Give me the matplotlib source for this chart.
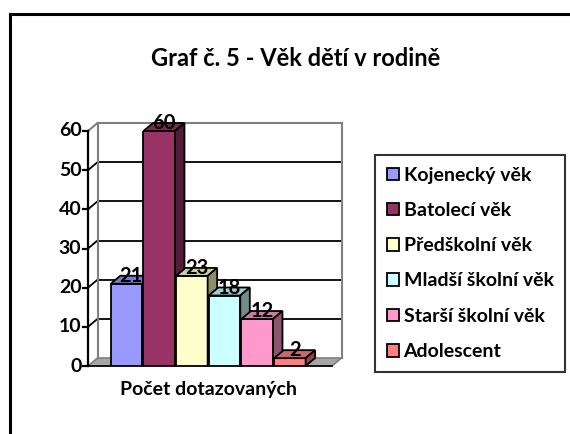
import numpy as np
import matplotlib
matplotlib.use("Agg")
import matplotlib.pyplot as plt
from matplotlib.patches import Polygon
from matplotlib.lines import Line2D
from matplotlib.colors import to_rgb

# --------------------------------
# Datos
# --------------------------------
kategorie = ["Kojenecký věk", "Batolecí věk", "Předškolní věk",
             "Mladší školní věk", "Starší školní věk", "Adolescent"]
hodnoty = [21, 60, 23, 18, 12, 2]
barvy = ["#9999FF", "#993366", "#FFFFCC", "#CCFFFF", "#FF99CC", "#FF8080"]
yticks = [0, 10, 20, 30, 40, 50, 60]
titulek = "Graf č. 5 - Věk dětí v rodině"
popis_x = "Počet dotazovaných"

plt.rcParams['font.family'] = ['Lato', 'DejaVu Sans']
plt.rcParams['font.weight'] = 'bold'

W, H = 570, 434
fig = plt.figure(figsize=(W / 100, H / 100), dpi=100)
fig.patch.set_facecolor("white")

# osa = predni rovina grafu (v pixelech: x 88..332, y 366..131)
ax = fig.add_axes([88 / W, (H - 366) / H, (332 - 88) / W, 235 / H])
xmax = 7.47
ax.set_xlim(0, xmax)
ax.set_ylim(0, 60)
ax.axis("off")

# hloubka 3D efektu v datovych jednotkach
px_x = (332 - 88) / xmax
px_y = 235 / 60
dx = 9.5 / px_x
dy = 8.0 / px_y

seda = "#808080"

# --------------------------------
# Zadni stena, podlaha, mrizka
# --------------------------------
floor = Polygon([(0, 0), (xmax, 0), (xmax + dx, dy), (dx, dy)], closed=True,
                facecolor="#a6a6a6", edgecolor=seda, lw=1.2, clip_on=False, zorder=1)
ax.add_patch(floor)
ax.plot([0, xmax], [0, 0], color="black", lw=1.2, clip_on=False, zorder=1.5)

for v in yticks[1:-1]:
    ax.plot([dx, xmax + dx], [v + dy, v + dy], color="black", lw=1.3, clip_on=False, zorder=1)
    ax.plot([0, dx], [v, v + dy], color="black", lw=1.3, clip_on=False, zorder=1)
ax.plot([0, dx], [60, 60 + dy], color=seda, lw=1.5, clip_on=False, zorder=1)
ax.plot([dx, xmax + dx], [60 + dy, 60 + dy], color=seda, lw=1.5, clip_on=False, zorder=1)
ax.plot([dx, dx], [dy, 60 + dy], color=seda, lw=1.5, clip_on=False, zorder=1)
ax.plot([xmax + dx, xmax + dx], [dy, 60 + dy], color=seda, lw=1.5, clip_on=False, zorder=1)

# osa y
ax.plot([0, 0], [0, 60], color="black", lw=1.6, clip_on=False, zorder=2)
for v in yticks:
    ax.plot([-0.16, 0], [v, v], color="black", lw=1.6, clip_on=False, zorder=2)
    ax.text(-0.2, v, str(v), ha="right", va="center", fontsize=14, fontweight="bold")

# --------------------------------
# Sloupce (predni stena + vrch + bok)
# --------------------------------
pozice = np.arange(len(hodnoty)) + 1.18
sirka = 0.965
for i, (x, h, c) in enumerate(zip(pozice, hodnoty, barvy)):
    z = 3 + i
    rgb = np.array(to_rgb(c))
    ax.bar(x, h, width=sirka, color=c, edgecolor="black", lw=1.3,
           label=kategorie[i], zorder=z)
    x0, x1 = x - sirka / 2, x + sirka / 2
    top = Polygon([(x0, h), (x1, h), (x1 + dx, h + dy), (x0 + dx, h + dy)], closed=True,
                  facecolor=rgb * 0.8, edgecolor="black", lw=1.3, clip_on=False, zorder=z)
    side = Polygon([(x1, 0), (x1 + dx, dy), (x1 + dx, h + dy), (x1, h)], closed=True,
                   facecolor=rgb * 0.55, edgecolor="black", lw=1.3, clip_on=False, zorder=z)
    ax.add_patch(top)
    ax.add_patch(side)
    ax.text(x + dx / 2, h + dy * 1.0, str(h), ha="center", va="center",
            fontsize=14.5, fontweight="bold", zorder=20, clip_on=False)

# --------------------------------
# Texty a legenda
# --------------------------------
fig.text(296 / W, 1 - 58 / H, titulek, ha="center", va="center", fontsize=17, fontweight="bold")
fig.text(208 / W, 1 - 390 / H, popis_x, ha="center", va="center", fontsize=14, fontweight="bold")

leg = ax.legend(loc="upper left", bbox_to_anchor=(375 / W, 1 - 155 / H),
                bbox_transform=fig.transFigure, fontsize=14, frameon=True,
                fancybox=False, edgecolor="black", handlelength=0.62, handleheight=0.62,
                handletextpad=0.25, labelspacing=0.94, borderpad=0.6, borderaxespad=0)
leg.get_frame().set_linewidth(1.5)

# ramecek kolem celeho grafu
fig.add_artist(Line2D([10 / W, 1], [1 - 14 / H, 1 - 14 / H], color="black", lw=2.2,
                      transform=fig.transFigure))
fig.add_artist(Line2D([10 / W, 10 / W], [0, 1 - 14 / H], color="black", lw=2.2,
                      transform=fig.transFigure))

fig.savefig("out.png", dpi=100)
